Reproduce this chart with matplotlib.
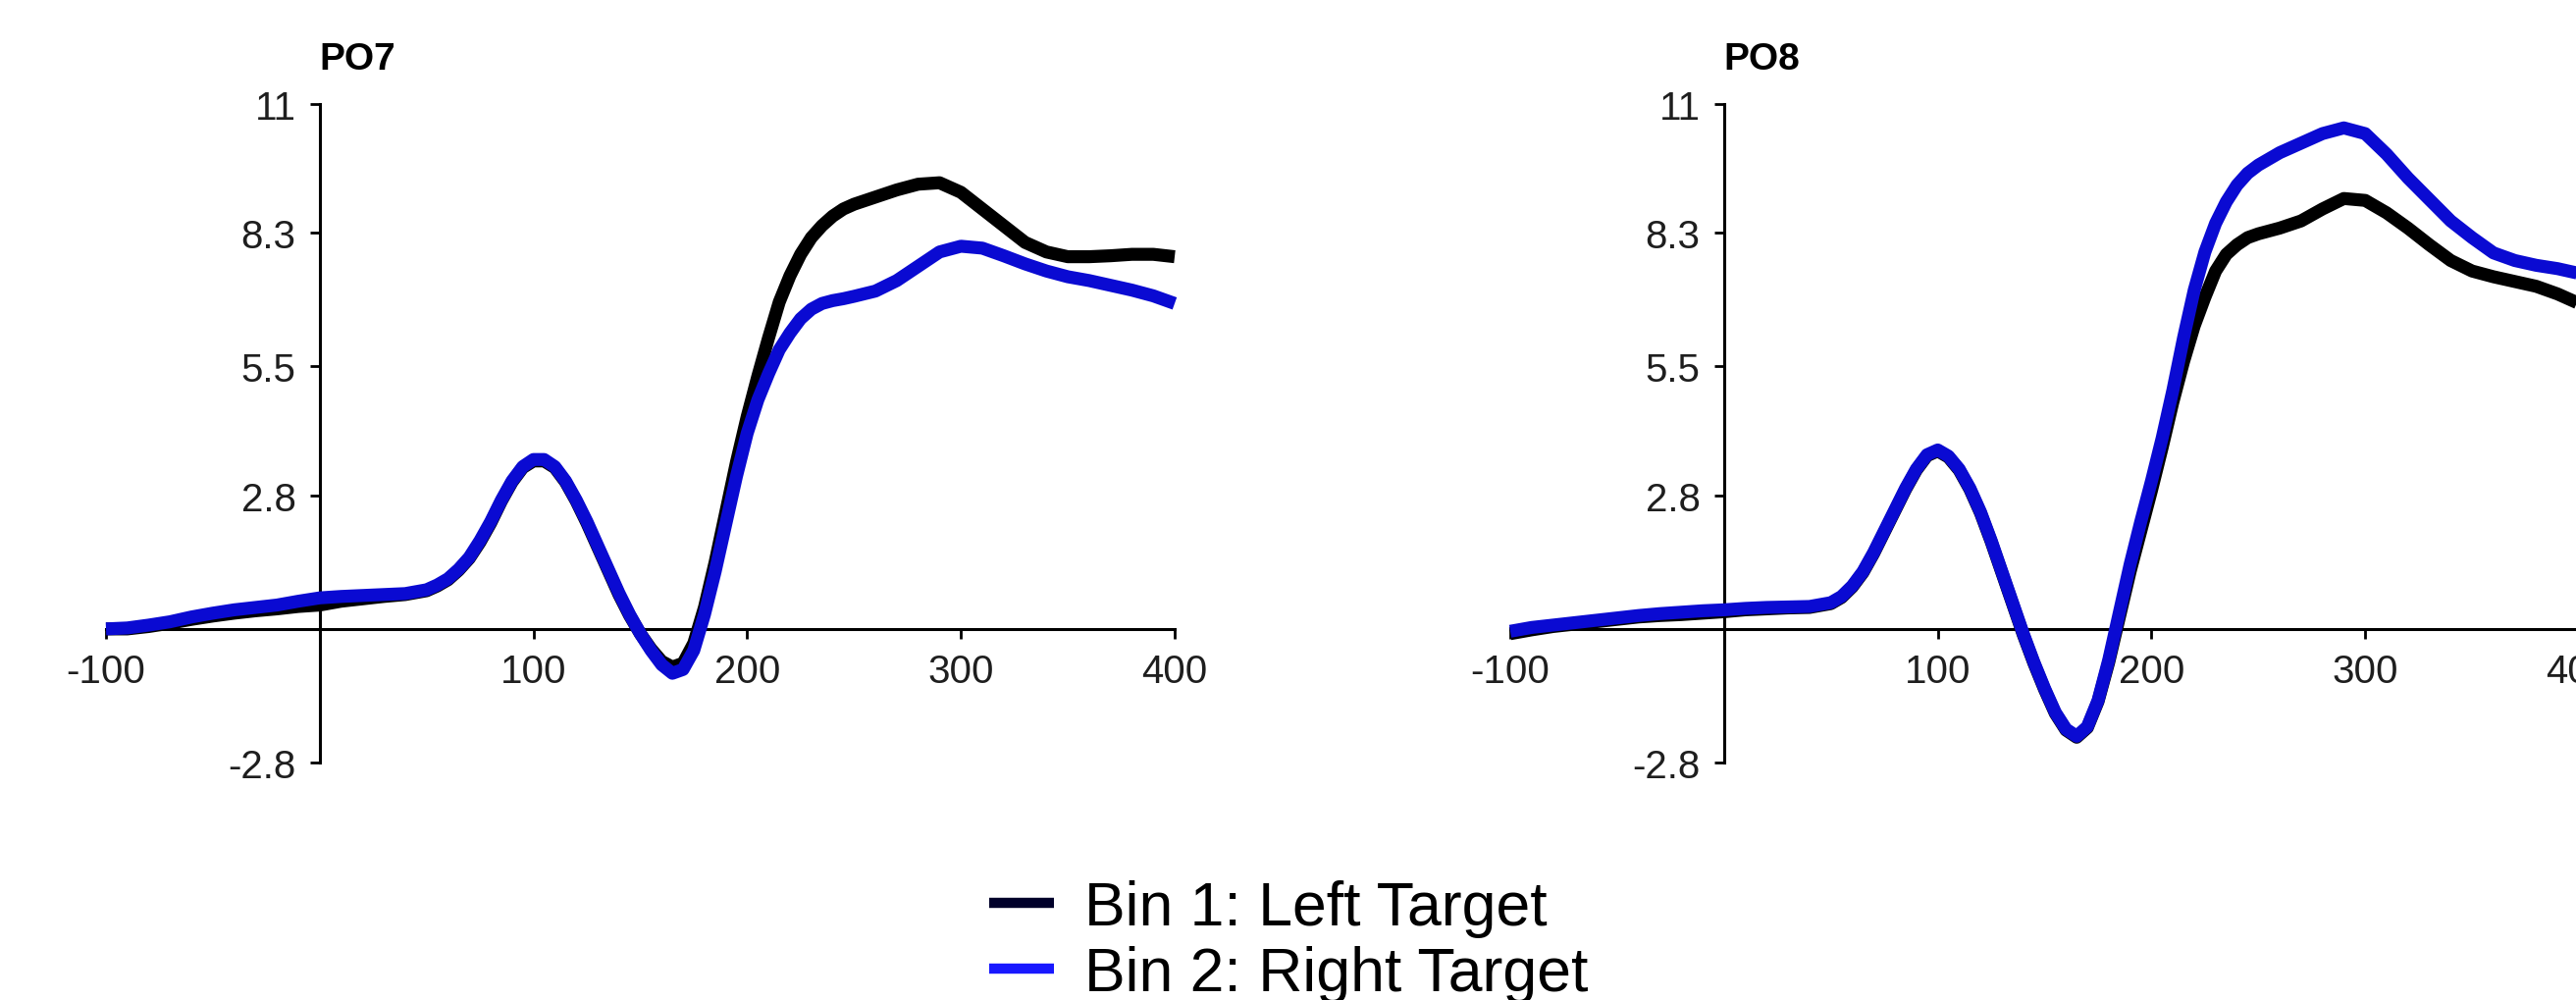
import matplotlib
matplotlib.use("Agg")
import matplotlib.pyplot as plt
from matplotlib.lines import Line2D

# ---------------- data ----------------
times = [-100, -90, -80, -70, -60, -50, -40, -30, -20, -10, 0, 10, 20, 30, 40, 50,
         55, 60, 65, 70, 75, 80, 85, 90, 95, 100, 105, 110, 115, 120, 125, 130, 135,
         140, 145, 150, 155, 160, 165, 170, 175, 180, 185, 190, 195, 200, 205, 210,
         215, 220, 225, 230, 235, 240, 245, 250,
         260, 270, 280, 290, 300, 310, 320, 330, 340, 350, 360, 370, 380, 390, 400]

po7_bin1 = [0.0, 0.0, 0.05, 0.12, 0.2, 0.27, 0.33, 0.38, 0.42, 0.47, 0.5, 0.58, 0.63, 0.68, 0.72, 0.8,
            0.9, 1.03, 1.23, 1.48, 1.82, 2.22, 2.68, 3.08, 3.38, 3.52, 3.52, 3.38, 3.08, 2.68, 2.22, 1.72, 1.22,
            0.72, 0.28, -0.1, -0.42, -0.68, -0.8, -0.72, -0.3, 0.45, 1.4, 2.45, 3.5, 4.45, 5.3, 6.1,
            6.85, 7.4, 7.85, 8.2, 8.45, 8.65, 8.8, 8.9,
            9.05, 9.2, 9.32, 9.35, 9.15, 8.8, 8.45, 8.1, 7.9, 7.8, 7.8, 7.82, 7.85, 7.85, 7.8]

po7_bin2 = [0.0, 0.02, 0.08, 0.15, 0.25, 0.33, 0.4, 0.45, 0.5, 0.58, 0.65, 0.68, 0.7, 0.72, 0.74, 0.82,
            0.92, 1.05, 1.25, 1.5, 1.85, 2.25, 2.7, 3.1, 3.4, 3.55, 3.55, 3.4, 3.1, 2.7, 2.25, 1.75, 1.25,
            0.75, 0.3, -0.1, -0.45, -0.75, -0.93, -0.85, -0.45, 0.3, 1.2, 2.2, 3.2, 4.1, 4.8, 5.35,
            5.85, 6.2, 6.5, 6.7, 6.82, 6.88, 6.92, 6.97,
            7.08, 7.3, 7.6, 7.9, 8.02, 7.98, 7.82, 7.65, 7.5, 7.38, 7.3, 7.2, 7.1, 6.98, 6.82]

po8_bin1 = [-0.1, -0.02, 0.05, 0.1, 0.15, 0.2, 0.25, 0.28, 0.3, 0.33, 0.36, 0.4, 0.42, 0.44, 0.45, 0.53,
            0.66, 0.88, 1.18, 1.58, 2.03, 2.48, 2.93, 3.33, 3.63, 3.73, 3.6, 3.33, 2.93, 2.43, 1.83, 1.18, 0.53,
            -0.12, -0.72, -1.27, -1.77, -2.12, -2.27, -2.07, -1.52, -0.7, 0.25, 1.2, 2.05, 2.9, 3.8, 4.75,
            5.6, 6.35, 6.95, 7.5, 7.85, 8.05, 8.2, 8.28,
            8.4, 8.55, 8.8, 9.02, 8.98, 8.72, 8.4, 8.05, 7.72, 7.5, 7.38, 7.28, 7.18, 7.02, 6.82]

po8_bin2 = [-0.05, 0.03, 0.08, 0.13, 0.18, 0.23, 0.28, 0.32, 0.35, 0.38, 0.4, 0.43, 0.45, 0.46, 0.47, 0.55,
            0.68, 0.9, 1.2, 1.6, 2.05, 2.5, 2.95, 3.35, 3.65, 3.75, 3.62, 3.35, 2.95, 2.45, 1.85, 1.2, 0.55,
            -0.1, -0.7, -1.25, -1.75, -2.1, -2.25, -2.05, -1.5, -0.65, 0.35, 1.35, 2.25, 3.1, 4.0, 5.0,
            6.1, 7.1, 7.9, 8.5, 8.95, 9.3, 9.55, 9.72,
            9.98, 10.18, 10.38, 10.5, 10.38, 9.95, 9.45, 9.0, 8.55, 8.2, 7.88, 7.72, 7.62, 7.55, 7.45]

panel_titles = ["PO7", "PO8"]
x_ticks = [-100, 100, 200, 300, 400]
x_ticklabels = ["-100", "100", "200", "300", "400"]
y_ticks = [-2.8, 2.8, 5.5, 8.3, 11]
y_ticklabels = ["-2.8", "2.8", "5.5", "8.3", "11"]
legend_labels = ["Bin 1: Left Target", "Bin 2: Right Target"]

# ---------------- style ----------------
plt.rcParams['font.family'] = ['Liberation Sans', 'DejaVu Sans']
W, H = 2625, 1020
fig = plt.figure(figsize=(W / 100, H / 100), dpi=100)

curve_colors = ["#000000", "#0a0ad2"]
legend_colors = ["#00002a", "#1818ff"]
tick_color = "#1e1e1e"

panels = [(po7_bin1, po7_bin2), (po8_bin1, po8_bin2)]
lefts = [108 / W, 1539 / W]
ax_w = 1089 / W
ax_b = 1 - 778 / H
ax_h = 671 / H

for i, (b1, b2) in enumerate(panels):
    ax = fig.add_axes([lefts[i], ax_b, ax_w, ax_h])
    ax.set_xlim(-100, 400)
    ax.set_ylim(-2.8, 11)
    ax.plot(times, b1, color=curve_colors[0], lw=9.5, solid_capstyle='butt',
            solid_joinstyle='round', clip_on=False, zorder=3)
    ax.plot(times, b2, color=curve_colors[1], lw=9.5, solid_capstyle='butt',
            solid_joinstyle='round', clip_on=False, zorder=4)

    for s in ['top', 'right']:
        ax.spines[s].set_visible(False)
    ax.spines['left'].set_position(('data', 0))
    ax.spines['bottom'].set_position(('data', 0))
    ax.spines['left'].set_bounds(-2.8, 11)
    ax.spines['bottom'].set_bounds(-100, 400)
    for s in ['left', 'bottom']:
        ax.spines[s].set_linewidth(2.2)
        ax.spines[s].set_color('#000000')
        ax.spines[s].set_zorder(2)

    ax.set_xticks(x_ticks)
    ax.set_xticklabels(x_ticklabels)
    ax.set_yticks(y_ticks)
    ax.set_yticklabels(y_ticklabels)
    ax.tick_params(axis='both', direction='out', length=7.5, width=2.0,
                   labelsize=29, labelcolor=tick_color, color='#000000')
    ax.tick_params(axis='x', pad=10)
    ax.tick_params(axis='y', pad=10)
    ax.patch.set_visible(False)

    ax.text(0, 1.068, panel_titles[i], transform=ax.get_xaxis_transform(),
            ha='left', va='center', fontsize=28, fontweight='bold', color='#000000')

handles = [Line2D([], [], color=legend_colors[0], lw=7.5, solid_capstyle='butt'),
           Line2D([], [], color=legend_colors[1], lw=7.5, solid_capstyle='butt')]
fig.legend(handles, legend_labels, loc='center left',
           bbox_to_anchor=(1008 / W, 1 - 960 / H), frameon=False,
           fontsize=45, handlelength=1.05, handletextpad=0.5,
           labelspacing=0.12, borderpad=0, borderaxespad=0)

fig.savefig("out.png", dpi=100, facecolor='white')
